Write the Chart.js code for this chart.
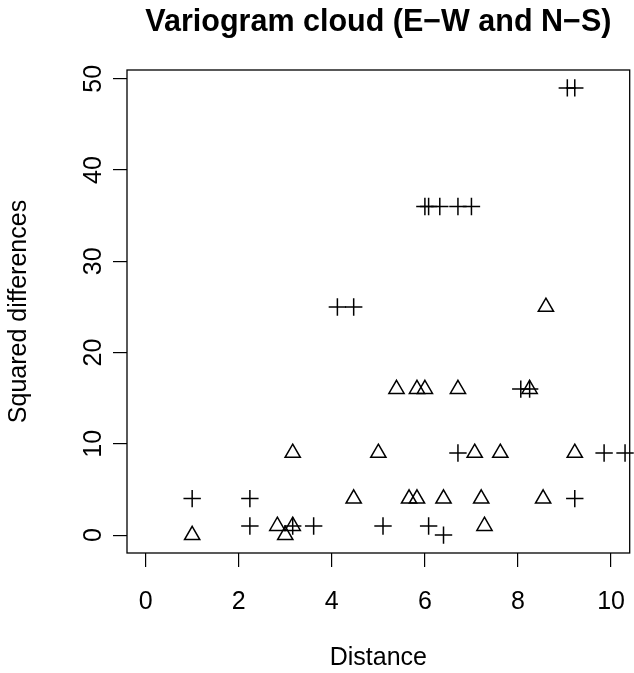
<!DOCTYPE html>
<html>
<head>
<meta charset="utf-8">
<script src="https://cdn.jsdelivr.net/npm/chart.js@4.4.1/dist/chart.umd.min.js"></script>
<style>
html,body{margin:0;padding:0;background:#fff;overflow:hidden;width:634px;height:673px}
#wrap{position:absolute;left:0;top:0;width:640px;height:673px}
canvas{display:block}
</style>
</head>
<body>
<div id="wrap"><canvas id="c" width="640" height="673"></canvas></div>
<script>
// ---- data ----
const ewDistance    = [1.00, 2.24, 2.24, 3.16, 3.61, 5.10, 6.08, 6.40, 6.71, 9.22, 9.85, 10.30, 8.06, 8.25, 4.12, 4.47, 9.06, 9.22, 6.00, 6.08, 6.32, 6.71, 7.00];
const ewSquaredDiff = [4,    4,    1,    1,    1,    1,    1,    0,    9,    4,    9,    9,     16,   16,   25,   25,   49,   49,   36,   36,   36,   36,   36];
const nsDistance    = [1.00, 2.83, 3.00, 3.16, 3.16, 4.47, 5.00, 5.39, 5.66, 5.83, 5.83, 6.00, 6.40, 6.71, 7.07, 7.21, 7.28, 7.62, 8.25, 8.54, 8.60, 9.22];
const nsSquaredDiff = [0,    1,    0,    1,    9,    4,    9,    16,   4,    4,    16,   16,   4,    16,   9,    4,    1,    9,    16,   4,    25,   9];
const xTickValues = [0, 2, 4, 6, 8, 10];
const yTickValues = [0, 10, 20, 30, 40, 50];
const titleText = 'Variogram cloud (E\u2212W and N\u2212S)';
const xLabel = 'Distance';
const yLabel = 'Squared differences';

const FONT = '"Liberation Sans", Arial, Helvetica, sans-serif';
const toPoints = (xs, ys) => xs.map((x, i) => ({x: x, y: ys[i]}));

const boxPlugin = {
  id: 'plotBox',
  afterDraw(chart) {
    const a = chart.chartArea, ctx = chart.ctx;
    ctx.save();
    ctx.strokeStyle = '#000';
    ctx.lineWidth = 1.3;
    ctx.strokeRect(a.left, a.top, a.right - a.left, a.bottom - a.top);
    ctx.restore();
  }
};

new Chart(document.getElementById('c'), {
  type: 'scatter',
  data: {
    datasets: [
      {
        label: 'E\u2212W',
        data: toPoints(ewDistance, ewSquaredDiff),
        pointStyle: 'cross',
        pointRadius: 8.7,
        pointHoverRadius: 8.7,
        borderColor: '#000',
        backgroundColor: 'rgba(0,0,0,0)',
        borderWidth: 1.5,
        clip: false
      },
      {
        label: 'N\u2212S',
        data: toPoints(nsDistance, nsSquaredDiff),
        pointStyle: 'triangle',
        pointRadius: 8.8,
        pointHoverRadius: 8.8,
        borderColor: '#000',
        backgroundColor: 'rgba(0,0,0,0)',
        borderWidth: 1.5,
        clip: false
      }
    ]
  },
  options: {
    responsive: false,
    animation: false,
    devicePixelRatio: 1,
    layout: {padding: {left: 0, right: 4, top: 0, bottom: 0}},
    plugins: {
      legend: {display: false},
      tooltip: {enabled: false},
      title: {
        display: true,
        text: titleText,
        fullSize: false,
        color: '#000',
        font: {family: FONT, size: 30.5, weight: 'bold', lineHeight: 1.2},
        padding: {top: 4, bottom: 29.4}
      }
    },
    scales: {
      x: {
        type: 'linear',
        position: 'bottom',
        min: -0.4,
        max: 10.4,
        afterBuildTicks: s => { s.ticks = xTickValues.map(v => ({value: v})); },
        afterFit: s => { s.height = 120; s.paddingLeft = 0; s.paddingRight = 0; },
        grid: {display: true, drawOnChartArea: false, drawTicks: true, tickLength: 14, color: '#000', lineWidth: 1.2},
        border: {display: false},
        ticks: {color: '#000', font: {family: FONT, size: 25}, padding: 20, minRotation: 0, maxRotation: 0},
        title: {display: true, text: xLabel, color: '#000', font: {family: FONT, size: 25, lineHeight: 1.2}, padding: {top: 0, bottom: 0}}
      },
      y: {
        type: 'linear',
        position: 'left',
        min: -1.96,
        max: 50.96,
        afterBuildTicks: s => { s.ticks = yTickValues.map(v => ({value: v})); },
        afterFit: s => { s.width = 127; s.paddingTop = 0; s.paddingBottom = 0; },
        grid: {display: true, drawOnChartArea: false, drawTicks: true, tickLength: 14, color: '#000', lineWidth: 1.2},
        border: {display: false},
        ticks: {color: '#000', font: {family: FONT, size: 25}, padding: 5, minRotation: 90, maxRotation: 90, crossAlign: 'center'},
        title: {display: true, text: yLabel, color: '#000', font: {family: FONT, size: 25, lineHeight: 1.2}, padding: {top: 4.5, bottom: 0}}
      }
    }
  },
  plugins: [boxPlugin]
});
</script>
</body>
</html>
